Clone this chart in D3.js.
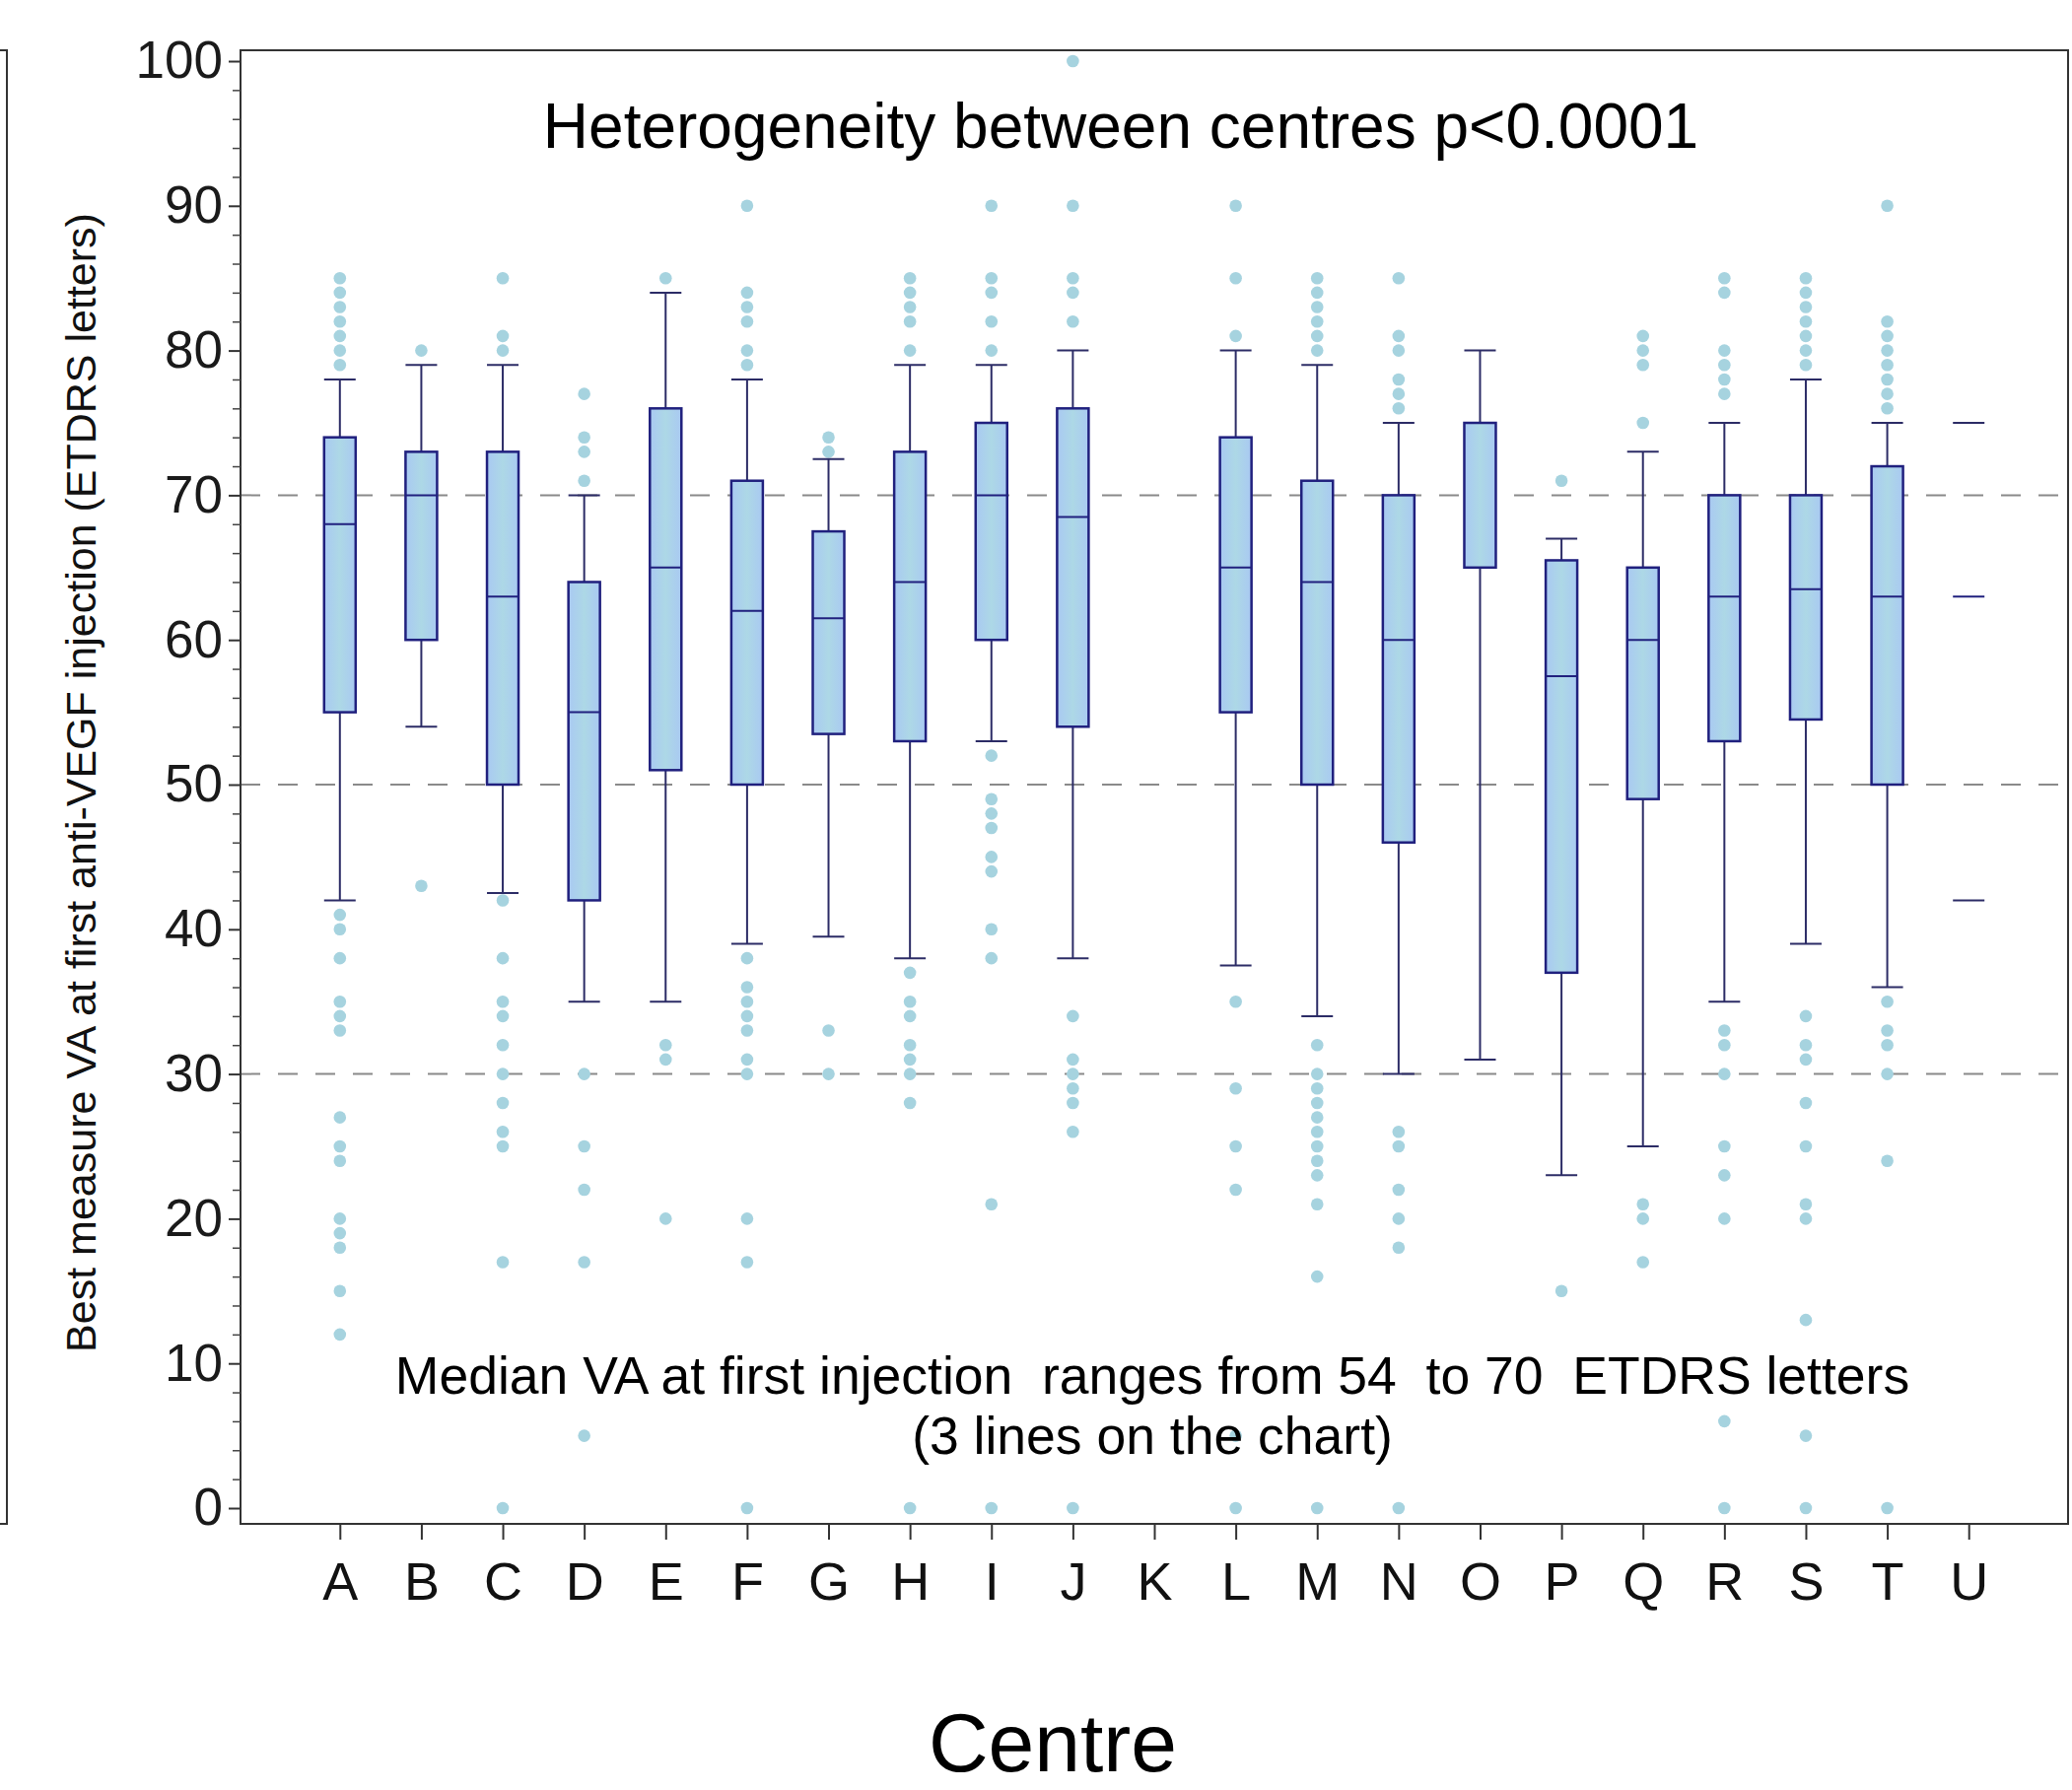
<!DOCTYPE html>
<html>
<head>
<meta charset="utf-8">
<script src="https://cdn.jsdelivr.net/npm/d3@7"></script>
<style>
    body { margin: 0; background: #fff; }
    svg { display: block; font-family: 'Liberation Sans', Arial, sans-serif; }
</style>
</head>
<body>
<div id="chart"></div>
<script>
// centres and box statistics (ETDRS letters)
const centres = ['A','B','C','D','E','F','G','H','I','J','K','L','M','N','O','P','Q','R','S','T','U'];
const q1 =        [55, 60, 50, 42, 51, 50, 53.5, 53, 60, 54, null, 55, 50, 46, 65, 37, 49, 53, 54.5, 50, null];
const medians =   [68, 70, 63, 55, 65, 62, 61.5, 64, 70, 68.5, null, 65, 64, 60, 75, 57.5, 60, 63, 63.5, 63, 63];
const q3 =        [74, 73, 73, 64, 76, 71, 67.5, 73, 75, 76, null, 74, 71, 70, 75, 65.5, 65, 70, 70, 72, null];
const whiskerLo = [42, 54, 42.5, 35, 35, 39, 39.5, 38, 53, 38, null, 37.5, 34, 30, 31, 23, 25, 35, 39, 36, 42];
const whiskerHi = [78, 79, 79, 70, 84, 78, 72.5, 79, 79, 80, null, 80, 79, 75, 80, 67, 73, 75, 78, 75, 75];
const outliers = [
    [85, 84, 83, 82, 81, 80, 79, 41, 40, 38, 35, 34, 33, 27, 25, 24, 20, 19, 18, 15, 12],
    [80, 43],
    [85, 81, 80, 42, 38, 35, 34, 32, 30, 28, 26, 25, 17, 0],
    [77, 74, 73, 71, 30, 25, 22, 17, 5],
    [85, 32, 31, 20],
    [90, 84, 83, 82, 80, 79, 38, 36, 35, 34, 33, 31, 30, 20, 17, 0],
    [74, 73, 33, 30],
    [85, 84, 83, 82, 80, 37, 35, 34, 32, 31, 30, 28, 0],
    [90, 85, 84, 82, 80, 52, 49, 48, 47, 45, 44, 40, 38, 21, 0],
    [100, 90, 85, 84, 82, 34, 31, 30, 29, 28, 26, 0],
    [],
    [90, 85, 81, 35, 29, 25, 22, 5, 0],
    [85, 84, 83, 82, 81, 80, 32, 30, 29, 28, 27, 26, 25, 24, 23, 21, 16, 0],
    [85, 81, 80, 78, 77, 76, 26, 25, 22, 20, 18, 0],
    [],
    [71, 15],
    [81, 80, 79, 75, 21, 20, 17],
    [85, 84, 80, 79, 78, 77, 33, 32, 30, 25, 23, 20, 6, 0],
    [85, 84, 83, 82, 81, 80, 79, 34, 32, 31, 28, 25, 21, 20, 13, 5, 0],
    [90, 82, 81, 80, 79, 78, 77, 76, 35, 33, 32, 30, 24, 0],
    []
];
const refLines = [30, 50, 70];
const yTicks = [0, 10, 20, 30, 40, 50, 60, 70, 80, 90, 100];

const width = 2102, height = 1816;
const frame = { left: 244, top: 51, right: 2098, bottom: 1546 };
const boxWidth = 32;

const svg = d3.select('#chart').append('svg')
    .attr('width', width)
    .attr('height', height);

const defs = svg.append('defs');
const grad = defs.append('linearGradient').attr('id', 'boxFill')
    .attr('x1', '0%').attr('x2', '100%').attr('y1', '0%').attr('y2', '0%');
grad.append('stop').attr('offset', '0%').attr('stop-color', '#a9c9f2');
grad.append('stop').attr('offset', '50%').attr('stop-color', '#add8e6');
grad.append('stop').attr('offset', '100%').attr('stop-color', '#a9c9f2');

const x = d3.scalePoint()
    .domain(centres)
    .range([frame.left, frame.right])
    .padding(1.22);

const y = d3.scaleLinear()
    .domain([0, 100])
    .range([1530, 62]);

// edge of neighbouring panel on the left
svg.append('path')
    .attr('d', `M0,${frame.top}H7V${frame.bottom}H0`)
    .attr('fill', 'none')
    .attr('stroke', '#333')
    .attr('stroke-width', 2);

// dashed reference lines
svg.append('g')
    .selectAll('line')
    .data(refLines)
    .join('line')
    .attr('x1', frame.left)
    .attr('x2', frame.right)
    .attr('y1', (d) => y(d))
    .attr('y2', (d) => y(d))
    .attr('stroke', '#8a8a8a')
    .attr('stroke-width', 2)
    .attr('stroke-dasharray', '20,18');

const stats = centres.map((c, i) => ({
    c,
    q1: q1[i],
    med: medians[i],
    q3: q3[i],
    lo: whiskerLo[i],
    hi: whiskerHi[i],
    out: outliers[i],
}));

// outlier dots
svg.append('g')
    .selectAll('g')
    .data(stats)
    .join('g')
    .selectAll('circle')
    .data((d) => d.out.map((v) => ({ c: d.c, v })))
    .join('circle')
    .attr('cx', (d) => x(d.c))
    .attr('cy', (d) => y(d.v))
    .attr('r', 6.3)
    .attr('fill', '#a6d3df');

const boxes = svg.append('g')
    .selectAll('g')
    .data(stats.filter((d) => d.med != null))
    .join('g');

// whiskers
boxes.filter((d) => d.q1 != null)
    .append('line')
    .attr('x1', (d) => x(d.c))
    .attr('x2', (d) => x(d.c))
    .attr('y1', (d) => y(d.hi))
    .attr('y2', (d) => y(d.q3))
    .attr('stroke', '#2c2c66')
    .attr('stroke-width', 2);
boxes.filter((d) => d.q1 != null)
    .append('line')
    .attr('x1', (d) => x(d.c))
    .attr('x2', (d) => x(d.c))
    .attr('y1', (d) => y(d.q1))
    .attr('y2', (d) => y(d.lo))
    .attr('stroke', '#2c2c66')
    .attr('stroke-width', 2);

['hi', 'lo'].forEach((k) => {
    boxes.append('line')
        .attr('x1', (d) => x(d.c) - boxWidth / 2)
        .attr('x2', (d) => x(d.c) + boxWidth / 2)
        .attr('y1', (d) => y(d[k]))
        .attr('y2', (d) => y(d[k]))
        .attr('stroke', '#2c2c66')
        .attr('stroke-width', 2);
});

boxes.filter((d) => d.q1 != null)
    .append('rect')
    .attr('x', (d) => x(d.c) - boxWidth / 2)
    .attr('y', (d) => y(d.q3))
    .attr('width', boxWidth)
    .attr('height', (d) => y(d.q1) - y(d.q3))
    .attr('fill', 'url(#boxFill)')
    .attr('stroke', '#20207e')
    .attr('stroke-width', 2.5);

boxes.append('line')
    .attr('x1', (d) => x(d.c) - boxWidth / 2)
    .attr('x2', (d) => x(d.c) + boxWidth / 2)
    .attr('y1', (d) => y(d.med))
    .attr('y2', (d) => y(d.med))
    .attr('stroke', '#20207e')
    .attr('stroke-width', 2);

// frame
svg.append('rect')
    .attr('x', frame.left)
    .attr('y', frame.top)
    .attr('width', frame.right - frame.left)
    .attr('height', frame.bottom - frame.top)
    .attr('fill', 'none')
    .attr('stroke', '#333')
    .attr('stroke-width', 2);

// y axis
const yAxis = svg.append('g')
    .attr('transform', `translate(${frame.left},0)`)
    .call(d3.axisLeft(y).tickValues(yTicks).tickSize(12).tickPadding(6));
yAxis.select('.domain').remove();
yAxis.selectAll('line').attr('stroke', '#333').attr('stroke-width', 2);
yAxis.selectAll('text')
    .attr('font-size', '53px')
    .attr('font-family', "'Liberation Sans', Arial, sans-serif")
    .attr('fill', '#1a1a1a');

const yMinor = svg.append('g')
    .attr('transform', `translate(${frame.left},0)`)
    .call(
        d3.axisLeft(y)
            .tickValues(d3.range(0, 101, 2).filter((v) => v % 10 !== 0))
            .tickSize(8)
            .tickFormat('')
    );
yMinor.select('.domain').remove();
yMinor.selectAll('line').attr('stroke', '#444').attr('stroke-width', 1.5);

// x axis
const xAxis = svg.append('g')
    .attr('transform', `translate(0,${frame.bottom})`)
    .call(d3.axisBottom(x).tickSize(16).tickPadding(23));
xAxis.select('.domain').remove();
xAxis.selectAll('line').attr('stroke', '#333').attr('stroke-width', 2);
xAxis.selectAll('text')
    .attr('font-size', '54px')
    .attr('font-family', "'Liberation Sans', Arial, sans-serif")
    .attr('fill', '#111');

// titles and notes
svg.append('text')
    .attr('transform', 'translate(82,794) rotate(-90)')
    .attr('text-anchor', 'middle')
    .attr('dy', '0.35em')
    .attr('font-size', '43px')
    .attr('fill', '#111')
    .text('Best measure VA at first anti-VEGF injection (ETDRS letters)');

svg.append('text')
    .attr('x', 1068)
    .attr('y', 1797)
    .attr('text-anchor', 'middle')
    .attr('font-size', '84px')
    .attr('fill', '#000')
    .text('Centre');

svg.append('text')
    .attr('x', 1137)
    .attr('y', 150)
    .attr('text-anchor', 'middle')
    .attr('font-size', '64px')
    .attr('fill', '#000')
    .text('Heterogeneity between centres p<0.0001');

svg.append('text')
    .attr('x', 1169)
    .attr('y', 1414)
    .attr('text-anchor', 'middle')
    .attr('font-size', '53.5px')
    .attr('fill', '#000')
    .style('white-space', 'pre')
    .text('Median VA at first injection  ranges from 54  to 70  ETDRS letters');

svg.append('text')
    .attr('x', 1169)
    .attr('y', 1475)
    .attr('text-anchor', 'middle')
    .attr('font-size', '53.5px')
    .attr('fill', '#000')
    .text('(3 lines on the chart)');
</script>
</body>
</html>
